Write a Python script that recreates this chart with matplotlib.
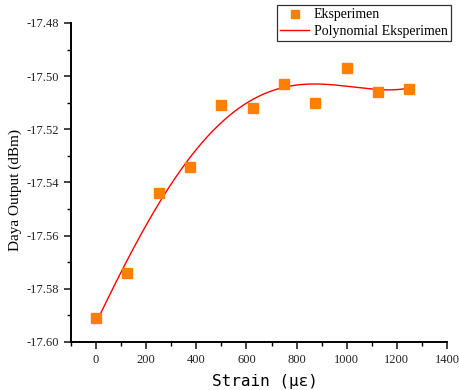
import numpy as np
import matplotlib
matplotlib.use("Agg")
import matplotlib.pyplot as plt
from matplotlib.ticker import MultipleLocator, FormatStrFormatter

strain = [0, 125, 250, 375, 500, 625, 750, 875, 1000, 1125, 1250]
power = [-17.591, -17.574, -17.544, -17.534, -17.511, -17.512,
         -17.503, -17.510, -17.497, -17.506, -17.505]

x_ticks = [0, 200, 400, 600, 800, 1000, 1200, 1400]
y_ticks = [-17.60, -17.58, -17.56, -17.54, -17.52, -17.50, -17.48]

serif = "Liberation Serif"

fig = plt.figure(figsize=(4.59, 3.90), dpi=100)
ax = fig.add_axes([71 / 459, 48 / 390, 376 / 459, 319 / 390])

# polynomial fit through the measured points
coef = np.polyfit(strain, power, 4)
xs = np.linspace(min(strain), max(strain), 300)
ax.plot(xs, np.polyval(coef, xs), color="#ff0000", lw=1.0,
        label="Polynomial Eksperimen", zorder=2)
ax.plot(strain, power, linestyle="none", marker="s", ms=7,
        color="#ff8000", mec="#ff8000", label="Eksperimen", zorder=3)

ax.set_xlim(-100, 1400)
ax.set_ylim(-17.60, -17.48)
ax.set_xticks(x_ticks)
ax.set_yticks(y_ticks)
ax.xaxis.set_minor_locator(MultipleLocator(100))
ax.yaxis.set_minor_locator(MultipleLocator(0.01))
ax.yaxis.set_major_formatter(FormatStrFormatter("%.2f"))

for side in ("top", "right"):
    ax.spines[side].set_visible(False)
for side in ("left", "bottom"):
    ax.spines[side].set_linewidth(1.4)

ax.tick_params(which="major", direction="out", length=5, width=1.2,
               labelsize=9, colors="#222222")
ax.tick_params(which="minor", direction="out", length=3, width=1.0)
for lab in ax.get_xticklabels() + ax.get_yticklabels():
    lab.set_fontfamily(serif)

ax.set_xlabel("Strain (με)", fontsize=11.5, family="DejaVu Sans Mono")
ax.xaxis.set_label_coords(0.516, -0.101)
ax.set_ylabel("Daya Output (dBm)", fontsize=11, family=serif)
ax.yaxis.set_label_coords(-0.129, 0.475)

handles, labels = ax.get_legend_handles_labels()
leg = fig.legend(handles[::-1], labels[::-1],
                 loc="upper right", bbox_to_anchor=(451 / 459, 385 / 390),
                 prop={"family": serif, "size": 10},
                 frameon=True, fancybox=False, edgecolor="black",
                 borderpad=0.25, labelspacing=0.25, handlelength=2.1,
                 handletextpad=0.3, borderaxespad=0, markerscale=0.8)
leg.get_frame().set_linewidth(0.9)

fig.savefig("out.png", dpi=100)
